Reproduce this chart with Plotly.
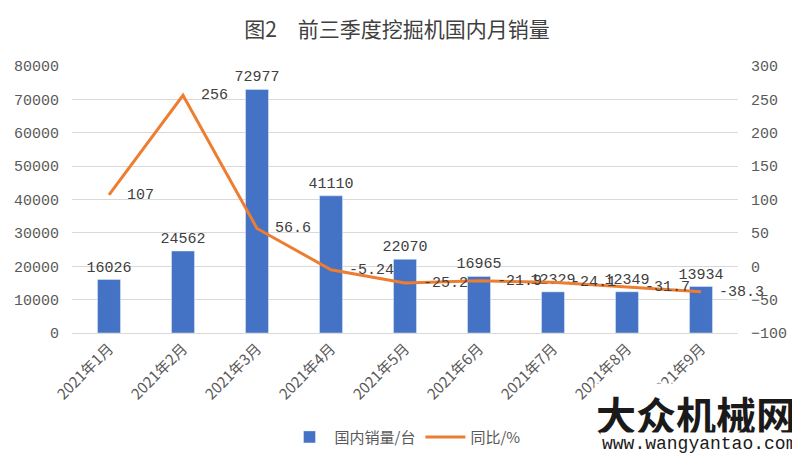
import plotly.graph_objects as go

months = ["2021年1月", "2021年2月", "2021年3月", "2021年4月", "2021年5月",
          "2021年6月", "2021年7月", "2021年8月", "2021年9月"]
sales = [16026, 24562, 72977, 41110, 22070, 16965, 12329, 12349, 13934]
yoy = [107, 256, 56.6, -5.24, -25.2, -21.9, -24.1, -31.7, -38.3]
yoy_text = ["107", "256", "56.6", "-5.24", "-25.2", "-21.9", "-24.1", "-31.7", "-38.3"]

FONT = "Noto Sans CJK SC"
MONO = "Liberation Mono"
GRAY = "#595959"

W, H = 792, 458
fig = go.Figure()
fig.add_trace(go.Bar(
    x=months, y=sales, name="国内销量/台", marker_color="#4472C4",
    text=[str(v) for v in sales], textposition="outside", constraintext="none",
    textfont=dict(size=15, color="#404040", family=MONO), cliponaxis=False,
))
fig.add_trace(go.Scatter(
    x=months, y=yoy, name="同比/%", yaxis="y2", mode="lines+text",
    line=dict(color="#ED7D31", width=3),
    text=["  " + t for t in yoy_text], textposition="middle right",
    textfont=dict(size=15, color="#404040", family=MONO), cliponaxis=False,
))

fig.update_layout(
    width=W, height=H,
    margin=dict(l=64, r=62, t=58, b=133),
    paper_bgcolor="white", plot_bgcolor="white",
    font=dict(family=FONT, color=GRAY, size=13),
    title=dict(text="图2　前三季度挖掘机国内月销量", x=389 / W, xanchor="center",
               y=1 - 22 / H, yanchor="middle",
               font=dict(size=21, color="#404040", family=FONT)),
    bargap=0.69,
    showlegend=True,
    legend=dict(orientation="h", x=0.5, xanchor="center", y=-0.39, yanchor="middle",
                itemwidth=40, font=dict(size=15, color=GRAY)),
    xaxis=dict(tickangle=-45, showgrid=False, showline=True, linecolor="#D9D9D9",
               automargin=False, tickfont=dict(size=15, color=GRAY)),
    yaxis=dict(range=[0, 80000], dtick=10000, tickformat="d", showgrid=True,
               gridcolor="#D9D9D9", zeroline=False, automargin=False,
               ticklabelstandoff=12,
               tickfont=dict(size=15, color=GRAY, family=MONO)),
    yaxis2=dict(range=[-100, 300], dtick=50, overlaying="y", side="right",
                showgrid=False, zeroline=False, automargin=False,
                ticklabelstandoff=12,
                tickfont=dict(size=15, color=GRAY, family=MONO)),
)

fig.add_annotation(xref="paper", yref="paper", x=1.09, y=-0.187, xanchor="right", yanchor="top",
                   text="<b>大众机械网</b>", showarrow=False, bgcolor="white",
                   font=dict(size=40, color="#1a1a1a", family=FONT))
fig.add_annotation(xref="paper", yref="paper", x=1.09, y=-0.37, xanchor="right", yanchor="top",
                   text="www.wangyantao.com", showarrow=False, bgcolor="white",
                   font=dict(size=18, color="#1a1a1a", family=MONO))

fig.write_html("out.html")
